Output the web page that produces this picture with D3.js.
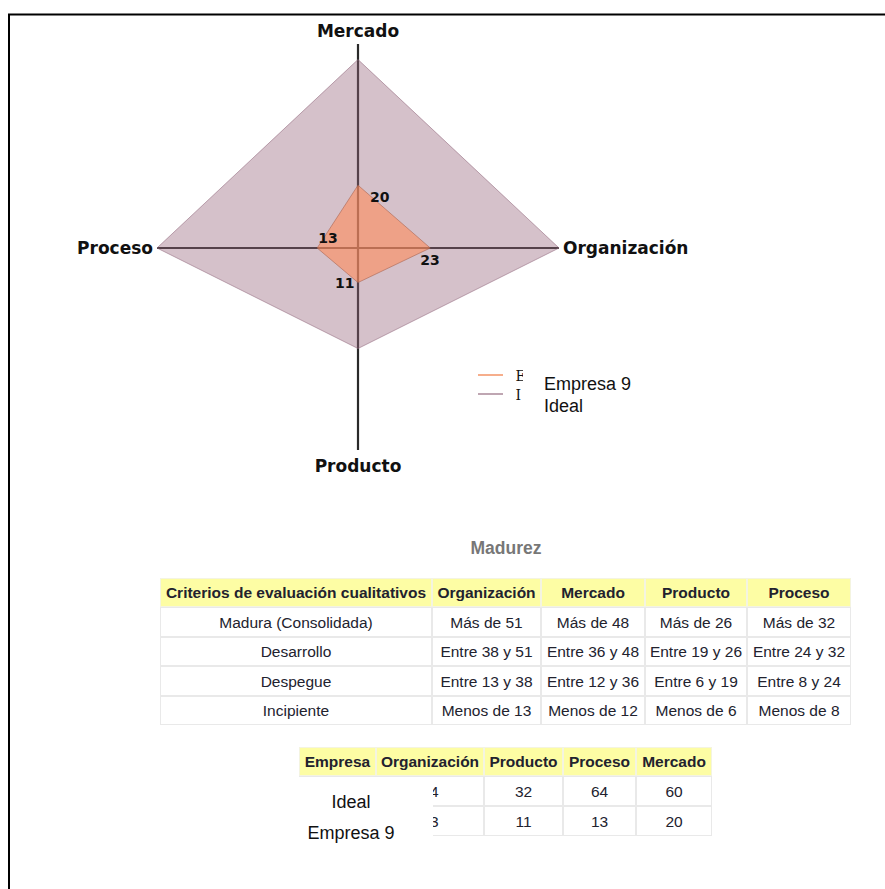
<!DOCTYPE html>
<html>
<head>
<meta charset="utf-8">
<script src="https://cdn.jsdelivr.net/npm/d3@7"></script>
<style>
  html, body { margin: 0; padding: 0; background: #fff; }
  svg { display: block; }
</style>
</head>
<body>
<svg id="chart" width="885" height="889"></svg>
<script>
// Radar axes, clockwise from the top
const axes = ["Mercado", "Organización", "Producto", "Proceso"];
const seriesNames = ["Empresa 9", "Ideal"];
const empresa9 = [20, 23, 11, 13];
const ideal = [60, 64, 32, 64];
const maxValue = 64;

// Maturity criteria table
const criteriaHeader = ["Criterios de evaluación cualitativos", "Organización", "Mercado", "Producto", "Proceso"];
const criteriaRows = [
  ["Madura (Consolidada)", "Más de 51", "Más de 48", "Más de 26", "Más de 32"],
  ["Desarrollo", "Entre 38 y 51", "Entre 36 y 48", "Entre 19 y 26", "Entre 24 y 32"],
  ["Despegue", "Entre 13 y 38", "Entre 12 y 36", "Entre 6 y 19", "Entre 8 y 24"],
  ["Incipiente", "Menos de 13", "Menos de 12", "Menos de 6", "Menos de 8"]
];

// Company scores table
const scoreHeader = ["Empresa", "Organización", "Producto", "Proceso", "Mercado"];
const scoreCompanies = ["Ideal", "Empresa 9"];
const scoreOrg = [64, 23];
const scoreProducto = [32, 11];
const scoreProceso = [64, 13];
const scoreMercado = [60, 20];

const svg = d3.select("#chart");

// page frame
svg.append("path")
  .attr("d", "M9,889 V14.5 H885")
  .attr("fill", "none").attr("stroke", "#000").attr("stroke-width", 2);

// ---------- radar ----------
const cx = 358, cy = 248;
const r = d3.scaleLinear().domain([0, maxValue]).range([0, 201]);
const angle = d3.scaleLinear().domain([0, axes.length]).range([0, 2 * Math.PI]);
const pt = (i, v) => [cx + r(v) * Math.sin(angle(i)), cy - r(v) * Math.cos(angle(i))];

const g = svg.append("g");
const axisLen = [204, 201, 202, 201];
g.selectAll("line.axis").data(axes).join("line")
  .attr("class", "axis")
  .attr("x1", cx).attr("y1", cy)
  .attr("x2", (d, i) => cx + axisLen[i] * Math.sin(angle(i)))
  .attr("y2", (d, i) => cy - axisLen[i] * Math.cos(angle(i)))
  .attr("stroke", "#2a2a2a").attr("stroke-width", 2.2);

const line = d3.line().curve(d3.curveLinearClosed);
g.append("path")
  .attr("d", line(ideal.map((v, i) => pt(i, v))))
  .attr("fill", "rgb(150,100,122)").attr("fill-opacity", 0.4)
  .attr("stroke", "rgb(150,110,130)").attr("stroke-opacity", 0.6).attr("stroke-width", 1);
g.append("path")
  .attr("d", line(empresa9.map((v, i) => pt(i, v))))
  .attr("fill", "rgb(255,140,90)").attr("fill-opacity", 0.6)
  .attr("stroke", "rgb(170,100,80)").attr("stroke-opacity", 0.6).attr("stroke-width", 1);

// value labels for Empresa 9
const valOffset = [[12, 17], [-10, 17], [-23, 5], [1, -5]];
g.selectAll("text.val").data(empresa9).join("text")
  .attr("class", "val")
  .attr("x", (d, i) => pt(i, d)[0] + valOffset[i][0])
  .attr("y", (d, i) => pt(i, d)[1] + valOffset[i][1])
  .attr("font-family", "DejaVu Sans").attr("font-weight", "bold").attr("font-size", 14)
  .attr("fill", "#111").text(d => d);

// axis names
const nameOffset = [[0, -211, "middle"], [205, 6, "start"], [0, 224, "middle"], [-205, 6, "end"]];
g.selectAll("text.axname").data(axes).join("text")
  .attr("class", "axname")
  .attr("x", (d, i) => cx + nameOffset[i][0])
  .attr("y", (d, i) => cy + nameOffset[i][1])
  .attr("text-anchor", (d, i) => nameOffset[i][2])
  .attr("font-family", "DejaVu Sans").attr("font-weight", "bold").attr("font-size", 17)
  .attr("fill", "#111").text(d => d);

// legend: swatches with narrow (cut-off) key text, full names beside
const legColors = ["rgba(245,160,120,0.85)", "rgba(180,150,165,0.85)"];
const leg = svg.append("g");
svg.append("clipPath").attr("id", "legclip")
  .append("rect").attr("x", 470).attr("y", 360).attr("width", 53).attr("height", 50);
leg.selectAll("line").data(seriesNames).join("line")
  .attr("x1", 478).attr("x2", 503)
  .attr("y1", (d, i) => 375 + i * 19).attr("y2", (d, i) => 375 + i * 19)
  .attr("stroke", (d, i) => legColors[i]).attr("stroke-width", 2);
leg.selectAll("text.clip").data(seriesNames).join("text")
  .attr("class", "clip")
  .attr("clip-path", "url(#legclip)")
  .attr("x", 515.5).attr("y", (d, i) => 381 + i * 19)
  .attr("font-family", "DejaVu Serif").attr("font-size", 14).attr("fill", "#111")
  .text(d => d.charAt(0));
leg.selectAll("text.full").data(seriesNames).join("text")
  .attr("class", "full")
  .attr("x", 544).attr("y", (d, i) => 390 + i * 22)
  .attr("font-family", "Liberation Sans, Arial").attr("font-size", 18).attr("fill", "#111").text(d => d);

// ---------- tables ----------
const headFill = "#fdfda4", gridColor = "#e9e9e9", txt = "#22222e";
const tfont = "Liberation Sans, Arial";
const tsize = 15.5;

svg.append("text").attr("x", 506).attr("y", 554).attr("text-anchor", "middle")
  .attr("font-family", tfont).attr("font-weight", "bold").attr("font-size", 17.5)
  .attr("fill", "#777").text("Madurez");

function drawTable(xs, ys, header, rows, skipFirstCol) {
  const t = svg.append("g");
  const all = [header, ...rows];
  all.forEach((row, ri) => {
    row.forEach((cell, ci) => {
      t.append("rect")
        .attr("x", xs[ci] + 0.5).attr("y", ys[ri] + 0.5)
        .attr("width", xs[ci + 1] - xs[ci] - 1).attr("height", ys[ri + 1] - ys[ri] - 1)
        .attr("fill", ri === 0 ? headFill : "#fff")
        .attr("stroke", ri === 0 ? "#f4f4e0" : gridColor).attr("stroke-width", 1);
      if (skipFirstCol && ri > 0 && ci === 0) return;
      t.append("text")
        .attr("x", (xs[ci] + xs[ci + 1]) / 2)
        .attr("y", (ys[ri] + ys[ri + 1]) / 2 + 5.5)
        .attr("text-anchor", "middle")
        .attr("font-family", tfont).attr("font-size", tsize)
        .attr("font-weight", ri === 0 ? "bold" : "normal")
        .attr("fill", txt).text(cell);
    });
  });
  return t;
}

drawTable([160, 432, 541, 645, 747, 851], [578, 607, 637, 666, 696, 725], criteriaHeader, criteriaRows, false);

const scoreRows = scoreCompanies.map((c, i) => [c, scoreOrg[i], scoreProducto[i], scoreProceso[i], scoreMercado[i]]);
drawTable([299, 376, 484, 563, 636, 712], [747, 776, 806, 836], scoreHeader, scoreRows, true);

// company names sit on a white block over the first columns
svg.append("rect").attr("x", 290).attr("y", 777).attr("width", 143).attr("height", 70).attr("fill", "#fff");
svg.selectAll("text.company").data(scoreCompanies).join("text")
  .attr("class", "company")
  .attr("x", 351).attr("y", (d, i) => 808 + i * 31)
  .attr("text-anchor", "middle")
  .attr("font-family", "Liberation Sans, Arial").attr("font-size", 18)
  .attr("fill", "#111").text(d => d);
</script>
</body>
</html>
